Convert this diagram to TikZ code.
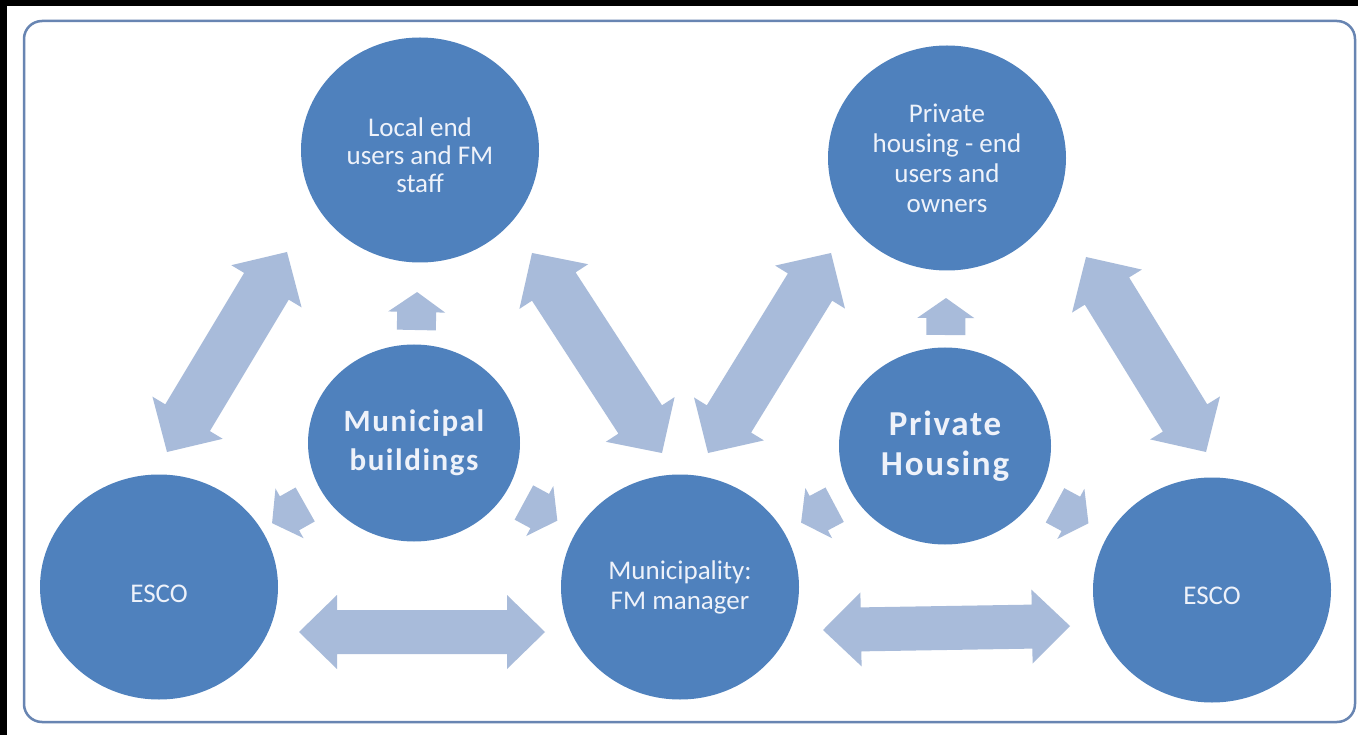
\documentclass[tikz,border=0pt]{standalone}
\usepackage{fontspec}
\setmainfont{Carlito}
\usetikzlibrary{calc,shapes.geometric}
\definecolor{circblue}{RGB}{79,129,189}
\definecolor{arrowblue}{RGB}{168,187,218}
\definecolor{framecol}{RGB}{104,133,178}
\definecolor{txtcol}{RGB}{238,242,250}
\newcommand{\twowayarrow}[5]{%
 \fill[blockarrow] (#1)
  -- ($(#1)!#3!(#2)!#4!90:(#2)$)
  -- ($(#1)!#3!(#2)!#5!90:(#2)$)
  -- ($(#2)!#3!(#1)!#5!-90:(#1)$)
  -- ($(#2)!#3!(#1)!#4!-90:(#1)$)
  -- (#2)
  -- ($(#2)!#3!(#1)!#4!90:(#1)$)
  -- ($(#2)!#3!(#1)!#5!90:(#1)$)
  -- ($(#1)!#3!(#2)!#5!-90:(#2)$)
  -- ($(#1)!#3!(#2)!#4!-90:(#2)$)
  -- cycle;}
\newcommand{\onewayarrow}[5]{%
 \fill[blockarrow] (#1)
  -- ($(#1)!#3!(#2)!#4!90:(#2)$)
  -- ($(#1)!#3!(#2)!#5!90:(#2)$)
  -- ($(#2)!#5!-90:(#1)$)
  -- ($(#2)!#5!90:(#1)$)
  -- ($(#1)!#3!(#2)!#5!-90:(#2)$)
  -- ($(#1)!#3!(#2)!#4!-90:(#2)$)
  -- cycle;}
\newcommand{\lowertext}[2]{\raisebox{-#1}[\height][\depth]{#2}}
\begin{document}
\begin{tikzpicture}[x=1pt,y=-1pt,
  bigcirc/.style={ellipse, fill=circblue, minimum width=238pt, minimum height=225pt, inner sep=0pt, text=txtcol, align=center, font=\fontsize{27}{30}\selectfont},
  midcirc/.style={ellipse, fill=circblue, minimum width=212pt, minimum height=197pt, inner sep=0pt, text=txtcol, align=center},
  mbfont/.style={font=\fontsize{31}{39}\selectfont\bfseries\addfontfeature{LetterSpace=5}},
  phfont/.style={font=\fontsize{35}{40}\selectfont\bfseries\addfontfeature{LetterSpace=5}},
  blockarrow/.style={fill=arrowblue},
  framebox/.style={draw=framecol, line width=2.5pt, rounded corners=18pt}]
\useasboundingbox (0,0) rectangle (1358,735);
\fill[white] (0,0) rectangle (1358,735);
\fill[black] (0,0) rectangle (1358,6);
\fill[black] (0,0) rectangle (7,735);
\draw[framebox] (24,21) rectangle (1355,722);

% circles
\node[bigcirc] (loc) at (420,150) {\lowertext{5pt}{\shortstack{Local end\\[6pt]users and FM\\[6pt]staff}}};
\node[bigcirc] (pend) at (947,158) {Private\\housing - end\\users and\\owners};
\node[bigcirc] (escoL) at (159,587) {\lowertext{7pt}{ESCO}};
\node[bigcirc] (muni) at (680,587) {Municipality:\\FM manager};
\node[bigcirc] (escoR) at (1212,590) {\lowertext{6pt}{ESCO}};
\node[midcirc, mbfont] (mb) at (414,443) {Municipal\\buildings};
\node[midcirc, phfont] (ph) at (945,446) {Private\\Housing};

% big two-way arrows
\coordinate (a1s) at (167,452); \coordinate (a1e) at (287,252);
\coordinate (a2s) at (532,253); \coordinate (a2e) at (662,453);
\coordinate (a3s) at (299,632); \coordinate (a3e) at (545,632);
\coordinate (a4s) at (708,453); \coordinate (a4e) at (831,253);
\coordinate (a5s) at (1086,257); \coordinate (a5e) at (1206,452);
\coordinate (a6s) at (823,630); \coordinate (a6e) at (1070,626);
\twowayarrow{a1s}{a1e}{40pt}{41pt}{26pt}
\twowayarrow{a2s}{a2e}{40pt}{41pt}{26pt}
\twowayarrow{a4s}{a4e}{40pt}{41pt}{26pt}
\twowayarrow{a5s}{a5e}{40pt}{41pt}{26pt}
\twowayarrow{a3s}{a3e}{38pt}{37pt}{22pt}
\twowayarrow{a6s}{a6e}{38pt}{37pt}{22pt}

% small one-way arrows
\coordinate (u1t) at ($(mb)!151pt!(loc)$); \coordinate (u1b) at ($(mb)!113pt!(loc)$);
\coordinate (u2t) at ($(ph)!148pt!(pend)$); \coordinate (u2b) at ($(ph)!111pt!(pend)$);
\coordinate (d1t) at ($(mb)!163pt!(escoL)$); \coordinate (d1b) at ($(mb)!125pt!(escoL)$);
\coordinate (d2t) at ($(mb)!163pt!(muni)$); \coordinate (d2b) at ($(mb)!125pt!(muni)$);
\coordinate (d3t) at ($(ph)!163pt!(muni)$); \coordinate (d3b) at ($(ph)!125pt!(muni)$);
\coordinate (d4t) at ($(ph)!163pt!(escoR)$); \coordinate (d4b) at ($(ph)!125pt!(escoR)$);
\foreach \t/\b in {u1t/u1b,u2t/u2b,d1t/d1b,d2t/d2b,d3t/d3b,d4t/d4b}{
  \onewayarrow{\t}{\b}{20pt}{28.5pt}{19.5pt}
}
\end{tikzpicture}
\end{document}
